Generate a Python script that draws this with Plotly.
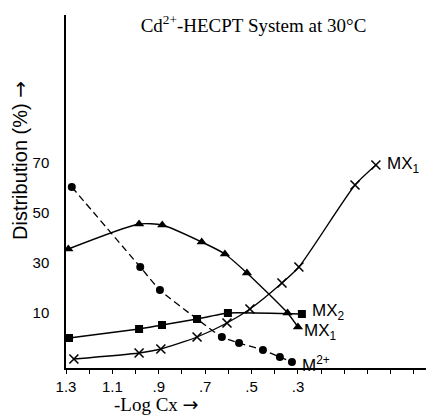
import plotly.graph_objects as go

# -Log Cx values and distribution (%)
m_x = [1.275, 0.98, 0.895, 0.735, 0.628, 0.554, 0.451, 0.378, 0.326]
m_y = [60.4, 28.4, 19.2, 7.6, 0.4, -2.0, -4.8, -7.6, -9.6]

mx1_x = [1.29, 0.985, 0.885, 0.715, 0.615, 0.52, 0.345, 0.30]
mx1_y = [35.6, 45.6, 45.2, 38.4, 33.6, 26.0, 10.0, 4.4]

mx2_x = [1.287, 0.985, 0.886, 0.735, 0.602, 0.283]
mx2_y = [0.0, 3.6, 5.2, 7.6, 10.0, 9.6]

mx3_x = [1.266, 0.985, 0.891, 0.735, 0.606, 0.507, 0.369, 0.296, 0.054, -0.036]
mx3_y = [-8.4, -6.0, -4.4, 0.4, 6.0, 11.6, 22.0, 28.4, 61.2, 69.2]

x_ticks = [1.3, 1.1, 0.9, 0.7, 0.5, 0.3]
x_ticktext = ["1.3", "1.1", ".9", ".7", ".5", ".3"]
y_ticks = [10, 30, 50, 70]

labels = [
    ("MX<sub>1</sub>", mx3_x, mx3_y, 9, 0),
    ("MX<sub>2</sub>", mx2_x, mx2_y, 8, 2),
    ("MX<sub>1</sub>", mx1_x, mx1_y, 4, -5),
    ("M<sup>2+</sup>", m_x, m_y, 8, -2),
]

ARROW = '<span style="font-family:DejaVu Sans">→</span>'

fig = go.Figure()
black = "black"
fig.add_trace(go.Scatter(x=mx1_x, y=mx1_y, mode="lines+markers",
                         line=dict(color=black, width=1.4, shape="spline", smoothing=0.6),
                         marker=dict(symbol="triangle-up", size=9, color=black)))
fig.add_trace(go.Scatter(x=mx2_x, y=mx2_y, mode="lines+markers",
                         line=dict(color=black, width=1.4, shape="spline", smoothing=0.4),
                         marker=dict(symbol="square", size=8, color=black)))
fig.add_trace(go.Scatter(x=m_x, y=m_y, mode="lines+markers",
                         line=dict(color=black, width=1.3, shape="spline", smoothing=0.6, dash="7px,4px"),
                         marker=dict(symbol="circle", size=8, color=black)))
fig.add_trace(go.Scatter(x=mx3_x, y=mx3_y, mode="lines+markers",
                         line=dict(color=black, width=1.3, shape="spline", smoothing=0.6),
                         marker=dict(symbol="x-thin", size=9, color=black,
                                     line=dict(color=black, width=1.6))))

for text, xs, ys, xsh, ysh in labels:
    fig.add_annotation(x=xs[-1], y=ys[-1], text=text, showarrow=False,
                       xanchor="left", yanchor="middle", xshift=xsh, yshift=ysh,
                       font=dict(family="Liberation Sans", size=17, color=black))

# axis titles placed as in the reference
fig.add_annotation(xref="paper", yref="paper", x=-0.128, y=0.589, textangle=-90,
                   text="Distribution (%) " + ARROW, showarrow=False,
                   xanchor="center", yanchor="middle",
                   font=dict(family="Liberation Sans", size=20, color=black))
fig.add_annotation(xref="paper", yref="paper", x=0.25, y=-0.102,
                   text="-Log Cx " + ARROW, showarrow=False,
                   xanchor="center", yanchor="middle",
                   font=dict(family="Liberation Serif", size=19, color=black))

fig.update_layout(
    width=426, height=415,
    margin=dict(l=66, r=0, t=15, b=47),
    paper_bgcolor="white", plot_bgcolor="white",
    showlegend=False,
    title=dict(text="Cd<sup>2+</sup>-HECPT System at 30°C", x=0.595, xanchor="center",
               y=0.94, yanchor="middle",
               font=dict(family="Liberation Serif", size=19, color=black)),
)
fig.update_xaxes(range=[1.3, -0.252], showgrid=False, zeroline=False,
                 showline=True, linecolor=black, linewidth=1.5,
                 tickvals=x_ticks, ticktext=x_ticktext, ticks="outside", ticklen=4,
                 tickcolor=black, tickwidth=1,
                 minor=dict(dtick=0.1, tick0=0.3, ticks="outside", ticklen=4, tickcolor=black),
                 tickfont=dict(family="Liberation Sans Narrow, Liberation Sans", size=15, color=black))
fig.update_yaxes(range=[-12, 129.2], showgrid=False, zeroline=False,
                 showline=True, linecolor=black, linewidth=1.5,
                 tickvals=y_ticks, ticks="", ticklabelstandoff=12,
                 tickfont=dict(family="Liberation Sans Narrow, Liberation Sans", size=15, color=black))

fig.write_html("out.html")
